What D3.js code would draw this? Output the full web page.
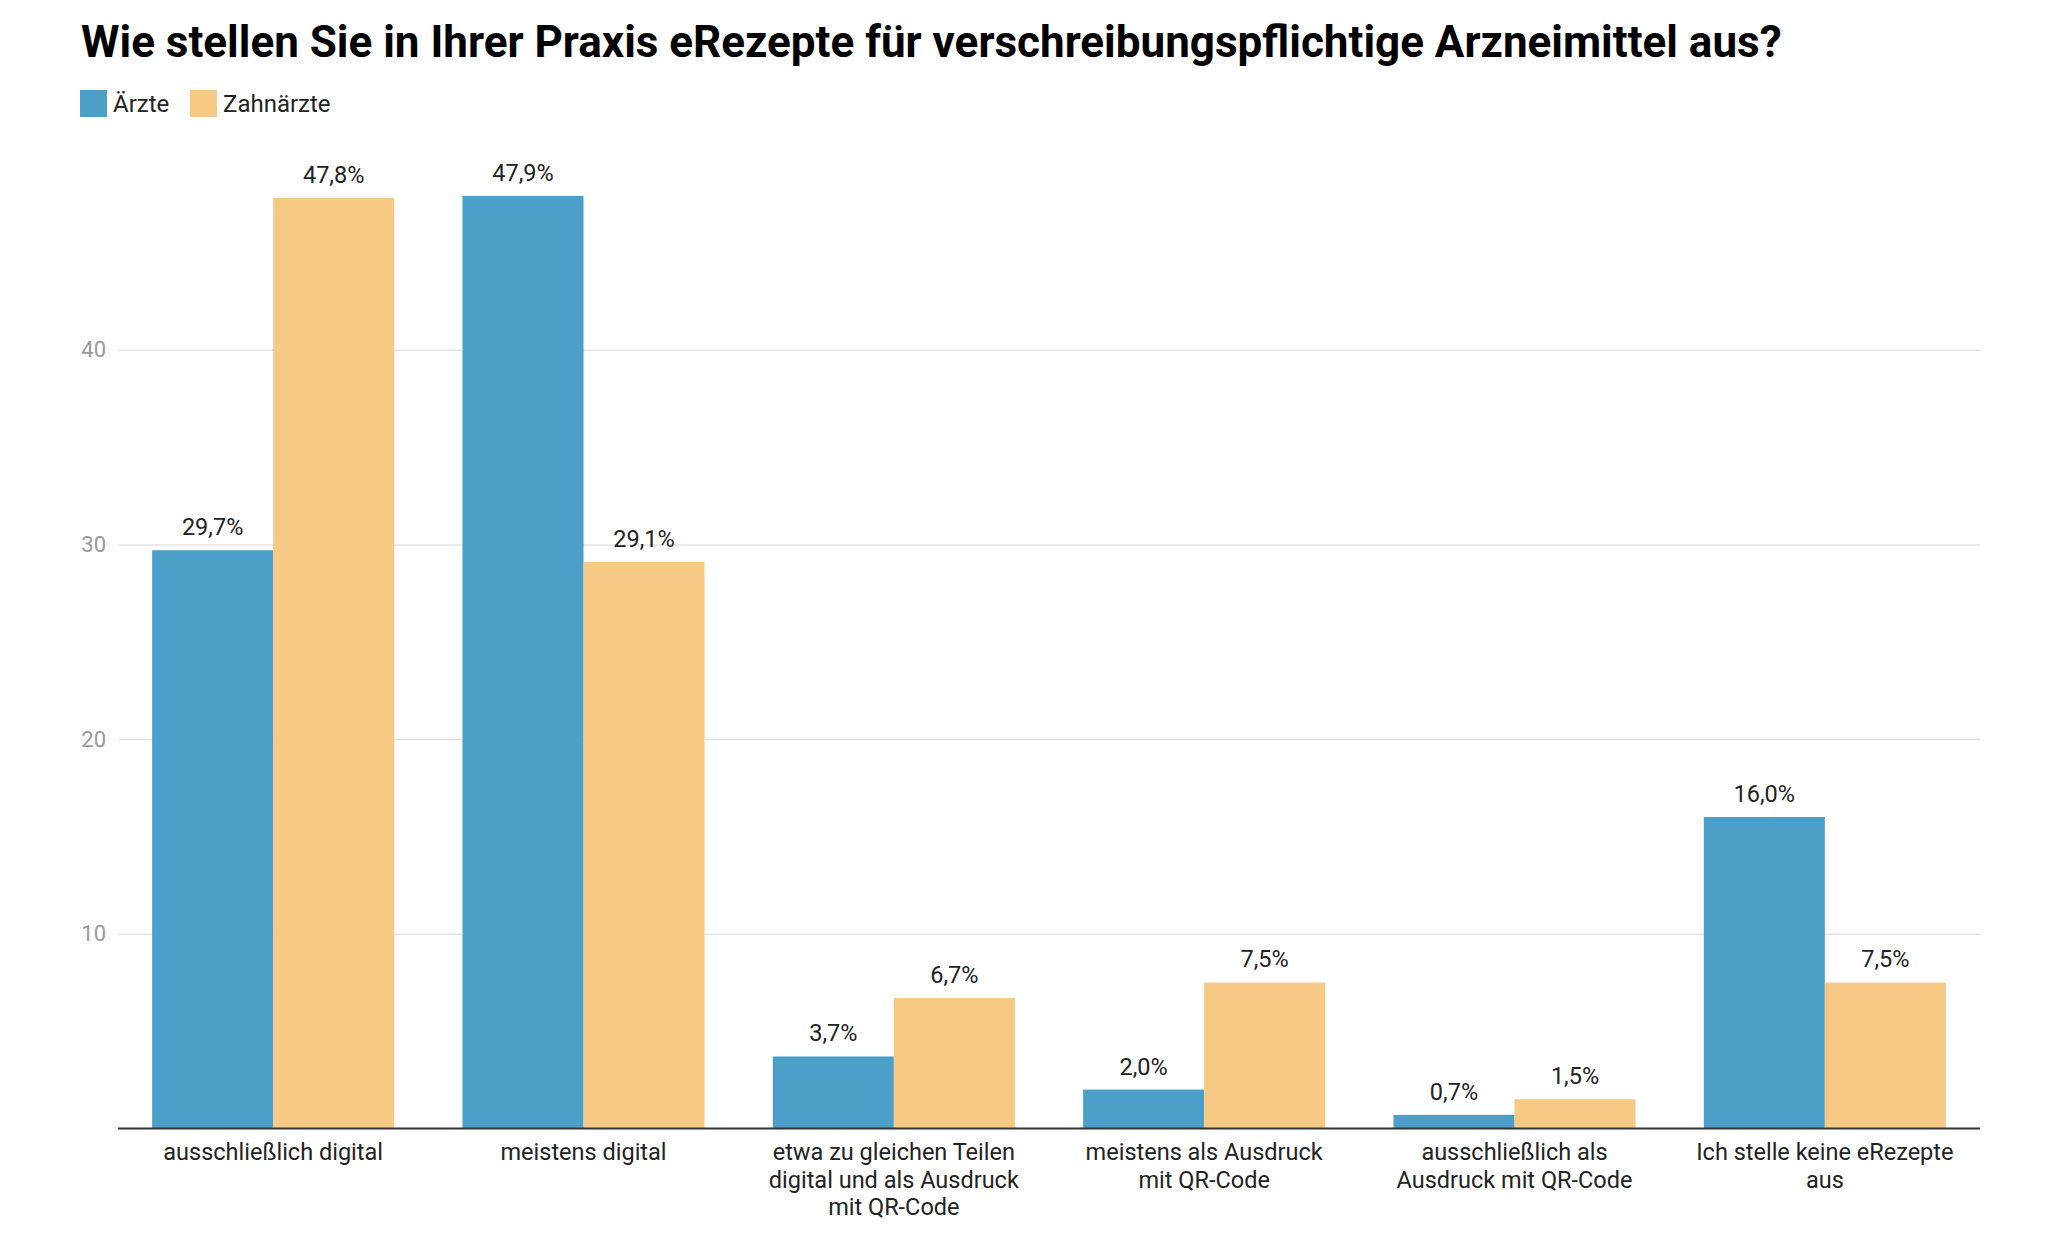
<!DOCTYPE html>
<html>
<head>
<meta charset="utf-8">
<title>eRezepte</title>
<script src="https://cdn.jsdelivr.net/npm/d3@7"></script>
<style>
    body { margin: 0; background: #fff; }
    text { font-family: Roboto, "Noto Sans", sans-serif; }
</style>
</head>
<body>
<svg id="chart" width="2056" height="1246"></svg>
<script>
// data
const categories = [
    "ausschließlich digital",
    "meistens digital",
    "etwa zu gleichen Teilen\ndigital und als Ausdruck\nmit QR-Code",
    "meistens als Ausdruck\nmit QR-Code",
    "ausschließlich als\nAusdruck mit QR-Code",
    "Ich stelle keine eRezepte\naus"
];
const seriesNames = ["Ärzte", "Zahnärzte"];
const aerzte = [29.7, 47.9, 3.7, 2.0, 0.7, 16.0];
const zahnaerzte = [47.8, 29.1, 6.7, 7.5, 1.5, 7.5];
const yTicks = [10, 20, 30, 40];

const colors = ["#4b9fc8", "#f6ca84"];
const width = 2056, height = 1246;
const left = 118, right = 1980, bottom = 1128.5;

const svg = d3.select("#chart");

const x = d3.scaleBand()
    .domain(d3.range(categories.length))
    .range([left, right])
    .paddingInner(0.22)
    .paddingOuter(0.11);

const xs = d3.scaleBand()
    .domain(seriesNames)
    .range([0, x.bandwidth()]);

const y = d3.scaleLinear()
    .domain([0, 50])
    .range([bottom, bottom - 50 * 19.47]);

// title
svg.append("text")
    .attr("x", 81)
    .attr("y", 57)
    .attr("font-size", 44)
    .attr("font-weight", 700)
    .attr("fill", "#000")
    .text("Wie stellen Sie in Ihrer Praxis eRezepte für verschreibungspflichtige Arzneimittel aus?");

// legend
const legendX = [80, 190];
const legend = svg.append("g");
seriesNames.forEach((name, i) => {
    legend.append("rect")
        .attr("x", legendX[i])
        .attr("y", 90)
        .attr("width", 27)
        .attr("height", 27)
        .attr("fill", colors[i]);
    legend.append("text")
        .attr("x", legendX[i] + 33)
        .attr("y", 112)
        .attr("font-size", 24)
        .attr("fill", "#222")
        .text(name);
});

// grid + y labels
const yAxis = svg.append("g")
    .attr("transform", `translate(${left + 1},0)`)
    .call(d3.axisLeft(y).tickValues(yTicks).tickSize(-(right - left - 1)).tickPadding(13));
yAxis.select(".domain").remove();
yAxis.selectAll(".tick line").attr("stroke", "#e3e3e3").attr("stroke-width", 1.5);
yAxis.selectAll(".tick text")
    .attr("font-size", 22)
    .attr("font-family", "Roboto, sans-serif")
    .attr("fill", "#9a9a9a");

// bars
const rows = categories.map((c, i) => ({ i: i, values: [aerzte[i], zahnaerzte[i]] }));
const groups = svg.selectAll("g.group")
    .data(rows)
    .enter()
    .append("g")
    .attr("class", "group")
    .attr("transform", d => `translate(${x(d.i)},0)`);

groups.selectAll("rect")
    .data(d => d.values.map((v, k) => ({ name: seriesNames[k], v: v, k: k })))
    .enter()
    .append("rect")
    .attr("x", d => xs(d.name))
    .attr("y", d => y(d.v))
    .attr("width", xs.bandwidth())
    .attr("height", d => y(0) - y(d.v))
    .attr("fill", d => colors[d.k]);

groups.selectAll("text.val")
    .data(d => d.values.map((v, k) => ({ name: seriesNames[k], v: v })))
    .enter()
    .append("text")
    .attr("class", "val")
    .attr("x", d => xs(d.name) + xs.bandwidth() / 2)
    .attr("y", d => y(d.v) - 15)
    .attr("text-anchor", "middle")
    .attr("font-size", 23.5)
    .attr("fill", "#222")
    .text(d => d.v.toFixed(1).replace(".", ",") + "%");

// baseline
svg.append("line")
    .attr("x1", left)
    .attr("x2", right)
    .attr("y1", y(0))
    .attr("y2", y(0))
    .attr("stroke", "#333")
    .attr("stroke-width", 2);

// category labels
const catLabels = svg.selectAll("text.cat")
    .data(categories)
    .enter()
    .append("text")
    .attr("class", "cat")
    .attr("text-anchor", "middle")
    .attr("font-size", 23.5)
    .attr("fill", "#222");

catLabels.each(function (c, i) {
    const lines = c.split("\n");
    const t = d3.select(this);
    lines.forEach((line, j) => {
        t.append("tspan")
            .attr("x", x(i) + x.bandwidth() / 2)
            .attr("y", 1160 + j * 27.5)
            .text(line);
    });
});
</script>
</body>
</html>
